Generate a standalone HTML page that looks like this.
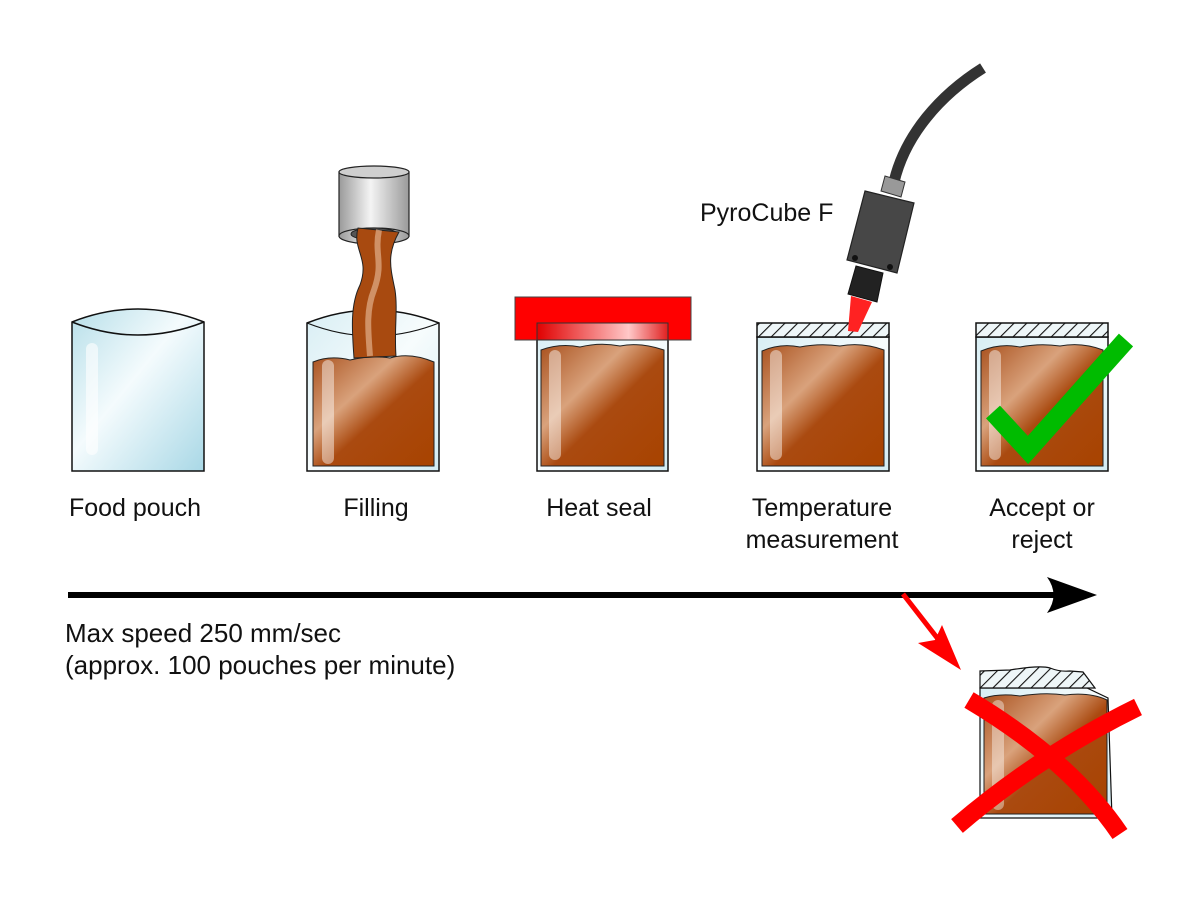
<!DOCTYPE html>
<html><head><meta charset="utf-8"><style>html,body{margin:0;padding:0;background:#fff}svg{display:block}</style></head>
<body>
<svg width="1200" height="903" viewBox="0 0 1200 903" xmlns="http://www.w3.org/2000/svg" font-family="Liberation Sans, sans-serif">
<defs>
<linearGradient id="bag" x1="0" y1="0" x2="1" y2="1">
<stop offset="0" stop-color="#b7dfe9"/><stop offset="0.45" stop-color="#f4fbfd"/><stop offset="1" stop-color="#a9d8e6"/>
</linearGradient>
<linearGradient id="bag2" x1="0" y1="0" x2="1" y2="1">
<stop offset="0" stop-color="#d8eef4"/><stop offset="0.5" stop-color="#f7fcfd"/><stop offset="1" stop-color="#d2ebf2"/>
</linearGradient>
<linearGradient id="liq" x1="0" y1="0" x2="1" y2="1">
<stop offset="0" stop-color="#a9511e"/><stop offset="0.35" stop-color="#d9a27c"/><stop offset="0.55" stop-color="#aa4a10"/><stop offset="1" stop-color="#a84300"/>
</linearGradient>
<linearGradient id="cyl" x1="0" y1="0" x2="1" y2="0">
<stop offset="0" stop-color="#9a9a9a"/><stop offset="0.45" stop-color="#f4f4f4"/><stop offset="1" stop-color="#9a9a9a"/>
</linearGradient>
<linearGradient id="seal" x1="0" y1="0" x2="1" y2="0">
<stop offset="0" stop-color="#e00000"/><stop offset="0.7" stop-color="#ffc8c8"/><stop offset="1" stop-color="#e02020"/>
</linearGradient>
<pattern id="hatch" width="9" height="9" patternUnits="userSpaceOnUse" patternTransform="rotate(45)">
<rect width="9" height="9" fill="#eef6f8"/><line x1="0" y1="0" x2="0" y2="9" stroke="#111" stroke-width="2.2"/>
</pattern>
</defs>

<!-- Food pouch -->
<path d="M72,322 Q138,296 204,322 L204,471 L72,471 Z" fill="url(#bag)" stroke="#111" stroke-width="1.5"/>
<path d="M72,322 Q138,348 204,322" fill="none" stroke="#111" stroke-width="1.5"/>
<rect x="86" y="343" width="12" height="112" rx="6" fill="#fff" opacity="0.6"/>

<!-- Filling -->
<path d="M307,323 Q373,297 439,323 L439,471 L307,471 Z" fill="url(#bag2)" stroke="#111" stroke-width="1.5"/>
<path d="M313,362 Q330,355 350,360 Q372,355 390,358 Q410,352 434,362 L434,466 L313,466 Z" fill="url(#liq)" stroke="#222" stroke-width="1"/>
<rect x="322" y="360" width="12" height="104" rx="6" fill="#fff" opacity="0.45"/>
<path d="M307,323 Q373,349 439,323" fill="none" stroke="#111" stroke-width="1.2"/>
<rect x="339" y="172" width="70" height="64" fill="url(#cyl)" stroke="#222" stroke-width="1.2"/>
<ellipse cx="374" cy="172" rx="35" ry="6" fill="#cfcfcf" stroke="#222" stroke-width="1.2"/>
<ellipse cx="374" cy="236" rx="35" ry="8" fill="url(#cyl)" stroke="#222" stroke-width="1.2"/>
<ellipse cx="374" cy="234" rx="23" ry="6" fill="#555" stroke="#222"/>
<path d="M358,228 C352,250 370,258 360,285 C350,305 352,330 354,358 L396,356 C394,330 398,310 395,290 C391,270 386,255 399,232 Z" fill="#a84a10" stroke="#222" stroke-width="1"/>
<path d="M379,230 C374,255 384,262 374,290 C366,310 368,330 370,356" fill="none" stroke="#d9a27c" stroke-width="6" opacity="0.8"/>

<!-- Heat seal -->
<rect x="537" y="323" width="131" height="148" fill="url(#bag2)" stroke="#111" stroke-width="1.5"/>
<path d="M541,350 Q560,343 580,347 Q600,342 620,346 Q640,342 664,350 L664,466 L541,466 Z" fill="url(#liq)" stroke="#222"/>
<rect x="549" y="350" width="12" height="110" rx="6" fill="#fff" opacity="0.45"/>
<rect x="515" y="297" width="176" height="43" fill="#f00" stroke="#444"/>
<rect x="537" y="323" width="131" height="17" fill="url(#seal)" stroke="#333"/>

<!-- Temperature -->
<rect x="757" y="337" width="132" height="134" fill="url(#bag2)" stroke="#111" stroke-width="1.5"/>
<rect x="757" y="323" width="132" height="14" fill="url(#hatch)" stroke="#111" stroke-width="1.5"/>
<path d="M762,351 Q780,343 800,347 Q820,343 840,346 Q862,342 884,350 L884,466 L762,466 Z" fill="url(#liq)" stroke="#222"/>
<rect x="770" y="350" width="12" height="110" rx="6" fill="#fff" opacity="0.45"/>
<path d="M983,68 C940,95 905,135 894,182" fill="none" stroke="#333" stroke-width="11"/>
<polygon points="885,176 905,182 901,197 881,191" fill="#999" stroke="#333"/>
<polygon points="865,191 914,203 897,273 847,260" fill="#474747" stroke="#222" stroke-width="1.2"/>
<circle cx="855" cy="258" r="3" fill="#111"/><circle cx="890" cy="267" r="3" fill="#111"/>
<polygon points="856,266 883,273 877,302 848,294" fill="#222" stroke="#111"/>
<polygon points="851,296 872,302 858,332 848,331" fill="#f22"/>

<!-- Accept -->
<rect x="976" y="337" width="132" height="134" fill="url(#bag2)" stroke="#111" stroke-width="1.5"/>
<rect x="976" y="323" width="132" height="14" fill="url(#hatch)" stroke="#111" stroke-width="1.5"/>
<path d="M981,351 Q1000,343 1020,347 Q1040,343 1060,346 Q1082,342 1103,350 L1103,466 L981,466 Z" fill="url(#liq)" stroke="#222"/>
<rect x="989" y="350" width="12" height="110" rx="6" fill="#fff" opacity="0.45"/>
<polyline points="993,412 1028,450 1126,340" fill="none" stroke="#00bb00" stroke-width="19"/>

<!-- Labels -->
<g font-size="25" fill="#111" text-anchor="middle">
<text x="135" y="516">Food pouch</text>
<text x="376" y="516">Filling</text>
<text x="599" y="516">Heat seal</text>
<text x="822" y="516">Temperature</text>
<text x="822" y="548">measurement</text>
<text x="1042" y="516">Accept or</text>
<text x="1042" y="548">reject</text>
</g>
<text x="700" y="221" font-size="25" fill="#111">PyroCube F</text>
<text x="65" y="642" font-size="26" fill="#111">Max speed 250 mm/sec</text>
<text x="65" y="674" font-size="26" fill="#111">(approx. 100 pouches per minute)</text>

<!-- main arrow -->
<line x1="68" y1="595" x2="1060" y2="595" stroke="#000" stroke-width="6"/>
<path d="M1097,595 L1047,577 Q1060,595 1047,613 Z" fill="#000"/>

<!-- red arrow -->
<line x1="903" y1="594" x2="945" y2="648" stroke="#f00" stroke-width="5"/>
<path d="M961,670 L918,643 L935,640 L942,625 Z" fill="#f00"/>

<!-- Reject -->
<path d="M980,688 L1087,688 L1108,698 L1112,818 L980,818 Z" fill="url(#bag2)" stroke="#111" stroke-width="1.2"/>
<path d="M980,671 L1010,670 Q1040,665 1050,668 Q1060,672 1070,671 L1083,672 L1095,688 L980,688 Z" fill="url(#hatch)" stroke="#111" stroke-width="1.2"/>
<path d="M984,698 Q1000,693 1020,696 Q1045,692 1065,695 Q1090,692 1107,700 L1107,814 L984,814 Z" fill="url(#liq)" stroke="#222"/>
<rect x="992" y="700" width="12" height="110" rx="6" fill="#fff" opacity="0.4"/>
<path d="M969,700 Q1070,760 1120,834" fill="none" stroke="#f00" stroke-width="18"/>
<path d="M1138,707 Q1040,755 957,826" fill="none" stroke="#f00" stroke-width="18"/>
</svg>
</body></html>
